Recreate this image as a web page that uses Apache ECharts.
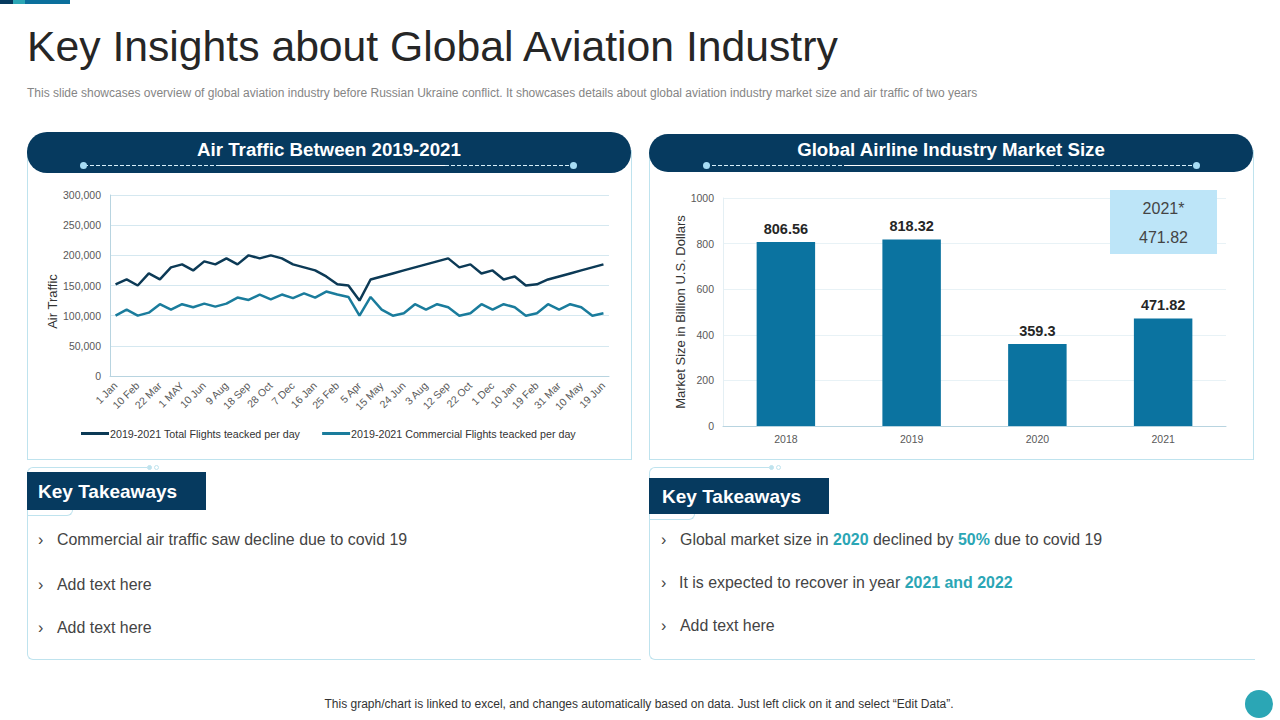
<!DOCTYPE html>
<html lang="en">
<head>
<meta charset="utf-8">
<title>Key Insights about Global Aviation Industry</title>
<script src="https://cdn.jsdelivr.net/npm/echarts@6/dist/echarts.min.js"></script>
<style>
html, body { margin: 0; padding: 0; background: #fff; }
#slide { position: relative; width: 1280px; height: 720px; overflow: hidden; font-family: "Liberation Sans", Arial, sans-serif; color: #444; }
#slide div { position: absolute; box-sizing: border-box; }
.t { white-space: nowrap; }
.header { background: #063a5f; border-radius: 20px; color: #fff; font-weight: bold; font-size: 18.7px; text-align: center; }
.dash { height: 1px; background: repeating-linear-gradient(90deg, #d8f0fa 0 4px, transparent 4px 6px); }
.solid { height: 1px; background: #fff; }
.dot { width: 7px; height: 7px; border-radius: 50%; background: #a6dcf5; }
.panel { border: 1px solid #bfe3ee; }
.kt { background: #063a5f; color: #fff; font-weight: bold; font-size: 19px; padding-left: 11px; }
.li { font-size: 15.93px; line-height: 21px; color: #444; }
.li b { color: #2ba6b5; }
.chev { font-size: 16px; line-height: 21px; color: #444; }
.ring { width: 5px; height: 5px; border-radius: 50%; border: 1px solid #bfe3ee; }
.callout { background: #bde5f8; color: #444; font-size: 16px; text-align: center; }
</style>
</head>
<body>
<div id="slide">
  <div style="left:0;top:0;width:13px;height:4px;background:#063a5f"></div>
  <div style="left:13px;top:0;width:12px;height:4px;background:#2ba6b5"></div>
  <div style="left:25px;top:0;width:45px;height:4px;background:#0b6f9c"></div>

  <div class="t" style="left:27px;top:20px;font-size:42.7px;line-height:52px;color:#262626">Key Insights about Global Aviation Industry</div>
  <div class="t" style="left:27px;top:86px;font-size:12px;line-height:15px;color:#858585">This slide showcases overview of global aviation industry before Russian Ukraine conflict. It showcases details about global aviation industry market size and air traffic of two years</div>

  <!-- chart panels -->
  <div class="panel" style="left:27px;top:150px;width:605px;height:310px"></div>
  <div class="panel" style="left:649px;top:150px;width:605px;height:310px"></div>
  <div id="trafficChart" style="left:28px;top:175px;width:603px;height:284px"></div>
  <div id="marketChart" style="left:650px;top:175px;width:603px;height:284px"></div>

  <div class="callout" style="left:1110px;top:190px;width:107px;height:64px">
    <div style="left:0;width:107px;top:9px;line-height:20px">2021*</div>
    <div style="left:0;width:107px;top:38px;line-height:20px">471.82</div>
  </div>

  <div class="header" style="left:27px;top:132px;width:604px;height:41px;line-height:36px">Air Traffic Between 2019-2021</div>
  <div class="dash" style="left:84px;top:165px;width:136px"></div>
  <div class="solid" style="left:220px;top:165px;width:225px"></div>
  <div class="dash" style="left:445px;top:165px;width:128px"></div>
  <div class="dot" style="left:80px;top:162px"></div>
  <div class="dot" style="left:570px;top:162px"></div>

  <div class="header" style="left:649px;top:134px;width:604px;height:38px;line-height:32px">Global Airline Industry Market Size</div>
  <div class="dash" style="left:706px;top:165px;width:138px"></div>
  <div class="solid" style="left:844px;top:165px;width:206px"></div>
  <div class="dash" style="left:1050px;top:165px;width:146px"></div>
  <div class="dot" style="left:703px;top:162px"></div>
  <div class="dot" style="left:1193px;top:162px"></div>

  <!-- left takeaways -->
  <div style="left:27px;top:467px;width:120px;height:20px;border-top:1px solid #bfe3ee;border-left:1px solid #bfe3ee;border-top-left-radius:6px"></div>
  <div class="ring" style="left:147px;top:465px;background:#bfe3ee"></div>
  <div class="ring" style="left:154px;top:465px"></div>
  <div style="left:27px;top:505px;width:46px;height:11px;border-bottom:1px solid #bfe3ee;border-right:1px solid #bfe3ee;border-bottom-right-radius:6px"></div>
  <div style="left:27px;top:505px;width:614px;height:155px;border-left:1px solid #bfe3ee;border-bottom:1px solid #bfe3ee;border-bottom-left-radius:6px"></div>
  <div class="kt" style="left:27px;top:472px;width:179px;height:38px;line-height:39px">Key Takeaways</div>
  <div class="t chev" style="left:38px;top:529px">›</div>
  <div class="t li" style="left:57px;top:529px">Commercial air traffic saw decline due to covid 19</div>
  <div class="t chev" style="left:38px;top:574px">›</div>
  <div class="t li" style="left:57px;top:574px">Add text here</div>
  <div class="t chev" style="left:38px;top:617px">›</div>
  <div class="t li" style="left:57px;top:617px">Add text here</div>

  <!-- right takeaways -->
  <div style="left:649px;top:467px;width:120px;height:20px;border-top:1px solid #bfe3ee;border-left:1px solid #bfe3ee;border-top-left-radius:6px"></div>
  <div class="ring" style="left:769px;top:465px;background:#bfe3ee"></div>
  <div class="ring" style="left:776px;top:465px"></div>
  <div style="left:649px;top:509px;width:46px;height:11px;border-bottom:1px solid #bfe3ee;border-right:1px solid #bfe3ee;border-bottom-right-radius:6px"></div>
  <div style="left:649px;top:509px;width:606px;height:151px;border-left:1px solid #bfe3ee;border-bottom:1px solid #bfe3ee;border-bottom-left-radius:6px"></div>
  <div class="kt" style="left:649px;top:478px;width:180px;height:36px;line-height:37px;padding-left:13px">Key Takeaways</div>
  <div class="t chev" style="left:661px;top:529px">›</div>
  <div class="t li" style="left:680px;top:529px">Global market size in <b>2020</b> declined by <b>50%</b> due to covid 19</div>
  <div class="t chev" style="left:661px;top:572px">›</div>
  <div class="t li" style="left:679px;top:572px">It is expected to recover in year <b>2021 and 2022</b></div>
  <div class="t chev" style="left:661px;top:615px">›</div>
  <div class="t li" style="left:680px;top:615px">Add text here</div>

  <div class="t" style="left:0;width:1278px;top:697px;line-height:15px;font-size:12px;color:#333;text-align:center">This graph/chart is linked to excel, and changes automatically based on data. Just left click on it and select “Edit Data”.</div>
  <div style="left:1245px;top:690px;width:28px;height:28px;border-radius:50%;background:#2ba6b5"></div>
</div>

<script>
// air traffic chart
var trafficDates = ['1 Jan','21 Jan','10 Feb','2 Mar','22 Mar','11 Apr','1 MAY','21 May','10 Jun','10 Jul','9 Aug','29 Aug','18 Sep','8 Oct','28 Oct','17 Nov','7 Dec','27 Dec','16 Jan','5 Feb','25 Feb','16 Mar','5 Apr','25 Apr','15 May','4 Jun','24 Jun','14 Jul','3 Aug','23 Aug','12 Sep','2 Oct','22 Oct','11 Nov','1 Dec','21 Dec','10 Jan','30 Jan','19 Feb','11 Mar','31 Mar','20 Apr','10 May','30 May','19 Jun'];
var totalFlights = [152000,160000,150000,170000,160000,180000,185000,175000,190000,185000,195000,185000,200000,195000,200000,195000,185000,180000,175000,165000,152000,150000,125000,160000,165000,170000,175000,180000,185000,190000,195000,180000,185000,170000,175000,160000,165000,150000,152000,160000,165000,170000,175000,180000,185000];
var commercialFlights = [100000,110000,100000,105000,119000,110000,119000,114000,120000,115000,120000,130000,126000,135000,127000,135000,129000,137000,130000,140000,135000,131000,100000,131000,110000,100000,104000,119000,110000,119000,114000,100000,104000,119000,110000,119000,114000,100000,104000,119000,110000,119000,114000,100000,104000];
var totalName = '2019-2021 Total Flights teacked per day';
var commercialName = '2019-2021 Commercial Flights teacked per day';

// market size chart
var marketYears = ['2018','2019','2020','2021'];
var marketSize = [806.56,818.32,359.3,471.82];

var gridColor = '#d5e8f0';
var tickColor = '#595959';
var fontName = '"Liberation Sans", Arial, sans-serif';

var trafficChart = echarts.init(document.getElementById('trafficChart'), null, {renderer: 'svg'});
trafficChart.setOption({
    animation: false,
    textStyle: {fontFamily: fontName},
    grid: {left: 82, right: 22, top: 20, bottom: 83},
    legend: {
        left: 48,
        top: 248,
        itemWidth: 28,
        itemHeight: 3,
        itemGap: 22,
        icon: 'rect',
        textStyle: {fontSize: 10.7, color: '#333', padding: [0, 0, 0, -4]},
        data: [totalName, commercialName]
    },
    xAxis: {
        type: 'category',
        data: trafficDates,
        axisLine: {lineStyle: {color: '#b8d4e0'}},
        axisTick: {show: false},
        axisLabel: {interval: 1, rotate: 45, fontSize: 10.5, color: tickColor, margin: 8}
    },
    yAxis: {
        type: 'value',
        min: 0,
        max: 300000,
        interval: 50000,
        name: 'Air Traffic',
        nameLocation: 'middle',
        nameGap: 51,
        nameMoveOverlap: false,
        nameTextStyle: {fontSize: 13, color: '#333', padding: [0, 32, 0, 0]},
        axisLine: {show: true, lineStyle: {color: '#b8d4e0'}},
        axisTick: {show: false},
        splitLine: {lineStyle: {color: gridColor}},
        axisLabel: {fontSize: 10.5, color: tickColor, margin: 9, formatter: function (v) { return v.toLocaleString('en-US'); }}
    },
    series: [
        {name: totalName, type: 'line', data: totalFlights, showSymbol: false, symbol: 'none', color: '#0c3a56', lineStyle: {width: 2.5}},
        {name: commercialName, type: 'line', data: commercialFlights, showSymbol: false, symbol: 'none', color: '#1a7c9c', lineStyle: {width: 2.5}}
    ]
});

var marketChart = echarts.init(document.getElementById('marketChart'), null, {renderer: 'svg'});
marketChart.setOption({
    animation: false,
    textStyle: {fontFamily: fontName},
    grid: {left: 73, right: 27, top: 23, bottom: 33},
    xAxis: {
        type: 'category',
        data: marketYears,
        axisLine: {lineStyle: {color: '#b8d4e0'}},
        axisTick: {show: false},
        axisLabel: {fontSize: 10.5, color: tickColor, margin: 7}
    },
    yAxis: {
        type: 'value',
        min: 0,
        max: 1000,
        interval: 200,
        name: 'Market Size in Billion U.S. Dollars',
        nameLocation: 'middle',
        nameGap: 36,
        nameMoveOverlap: false,
        nameTextStyle: {fontSize: 13, color: '#333'},
        axisLine: {show: true, lineStyle: {color: '#e4eff4'}},
        axisTick: {show: false},
        splitLine: {lineStyle: {color: '#e8f2f6'}},
        axisLabel: {fontSize: 10.5, color: tickColor, margin: 9, formatter: function (v) { return String(v); }}
    },
    series: [{
        type: 'bar',
        data: marketSize,
        barWidth: '46.5%',
        color: '#0b73a0',
        label: {show: true, position: 'top', distance: 6, fontSize: 14.5, fontWeight: 'bold', color: '#262626'}
    }]
});
</script>
</body>
</html>
